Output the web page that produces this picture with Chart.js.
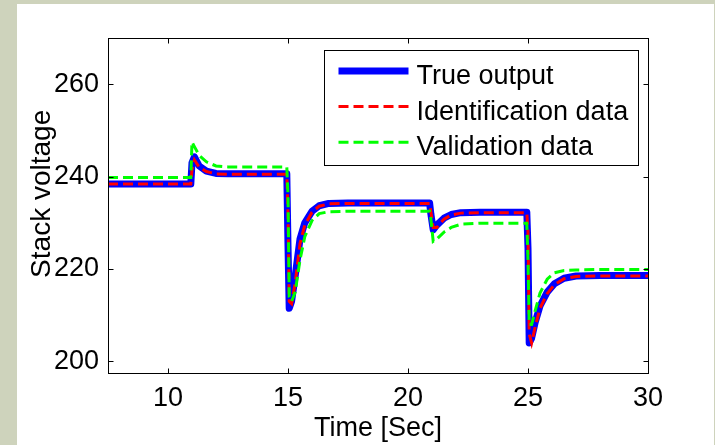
<!DOCTYPE html>
<html>
<head>
<meta charset="utf-8">
<script src="https://cdn.jsdelivr.net/npm/chart.js@4.4.1/dist/chart.umd.min.js"></script>
<style>
  html, body { margin: 0; padding: 0; }
  body { width: 715px; height: 445px; background: #ced3bc; overflow: hidden; position: relative; }
  .js-panel { position: absolute; left: 17px; top: 4px; width: 697px; height: 441px; background: #fff; }
</style>
</head>
<body>
<div class="js-panel"><canvas id="myChart" width="697" height="441"></canvas></div>
<script>
// values (time in seconds, voltage)
const timeSec = [7.5, 10.95, 11.0, 11.1, 11.3, 11.6, 12.0, 12.5, 14.95, 15.0, 15.05, 15.15, 15.3, 15.5, 15.7, 16.0, 16.3, 16.7, 17.5,
  20.9, 20.95, 21.05, 21.2, 21.5, 21.8, 22.2, 23, 24.95, 25.0, 25.05, 25.15, 25.3, 25.5, 25.8, 26.1, 26.5, 27, 28, 30];
const trueOutput = [238.4, 238.4, 243, 244.3, 242.3, 241.2, 240.7, 240.6, 240.6, 225, 211.5, 213, 218.5, 226.5, 230, 232.5, 233.7, 234.2, 234.3,
  234.3, 232, 228.5, 229.5, 231, 231.8, 232.2, 232.3, 232.3, 224.5, 204, 205, 208.5, 212, 215, 216.8, 218, 218.5, 218.6, 218.6];
const identificationData = [238.4, 238.4, 241.5, 243.6, 242, 241.1, 240.6, 240.5, 240.5, 232, 213, 212.5, 217, 225.5, 229.5, 232.3, 233.6, 234.1, 234.2,
  234.2, 232.5, 229, 229, 230.8, 231.7, 232.1, 232.2, 232.2, 228, 206, 204, 207.5, 211.5, 214.7, 216.6, 217.9, 218.4, 218.5, 218.5];
const validationData = [239.8, 239.8, 247.5, 246.5, 244.6, 243.2, 242.3, 242.1, 242.1, 236, 214, 213, 215, 222, 227, 230.5, 232, 232.4, 232.5,
  232.5, 231, 226, 226.5, 228, 229, 229.7, 229.9, 229.9, 222, 208, 208, 211, 214.8, 217.8, 219.2, 219.7, 219.8, 219.9, 219.9];

const xTicks = [10, 15, 20, 25, 30];
const yTicks = [200, 220, 240, 260];

const fontFamily = "'Liberation Sans', Arial, sans-serif";

const toPoints = function (values) {
  return values.map((v, i) => ({ x: timeSec[i], y: v }));
};

// box round the plot + inward tick marks, like matlab
const axesFrame = {
  id: 'axesFrame',
  afterDatasetsDraw(chart) {
    const { ctx, chartArea: a, scales: { x, y } } = chart;
    const l = Math.round(a.left) + 0.5, r = Math.round(a.right) + 0.5;
    const t = Math.round(a.top) + 0.5, b = Math.round(a.bottom) + 0.5;
    ctx.save();
    ctx.strokeStyle = '#000';
    ctx.lineWidth = 1;
    ctx.strokeRect(l, t, r - l, b - t);
    ctx.beginPath();
    x.ticks.forEach(tick => {
      const px = Math.round(x.getPixelForValue(tick.value)) + 0.5;
      ctx.moveTo(px, b); ctx.lineTo(px, b - 5);
      ctx.moveTo(px, t); ctx.lineTo(px, t + 5);
    });
    y.ticks.forEach(tick => {
      const py = Math.round(y.getPixelForValue(tick.value)) + 0.5;
      ctx.moveTo(l, py); ctx.lineTo(l + 5, py);
      ctx.moveTo(r, py); ctx.lineTo(r - 5, py);
    });
    ctx.stroke();
    ctx.restore();
  }
};

// legend box inside the plot, top right
const boxLegend = {
  id: 'boxLegend',
  afterDraw(chart) {
    const { ctx, chartArea: a } = chart;
    const w = 314, h = 115;
    const left = Math.round(a.right - 10 - w) + 0.5, top = Math.round(a.top + 12) + 0.5;
    ctx.save();
    ctx.fillStyle = '#fff';
    ctx.fillRect(left, top, w, h);
    ctx.strokeStyle = '#000';
    ctx.lineWidth = 1;
    ctx.strokeRect(left, top, w, h);
    chart.data.datasets.forEach((ds, i) => {
      const ly = top + 20.5 + i * 35.6;
      ctx.beginPath();
      ctx.strokeStyle = ds.borderColor;
      ctx.lineWidth = ds.borderWidth;
      ctx.setLineDash(ds.borderDash || []);
      ctx.lineCap = 'butt';
      ctx.moveTo(left + 14, ly);
      ctx.lineTo(left + 84, ly);
      ctx.stroke();
      ctx.setLineDash([]);
      ctx.fillStyle = '#000';
      ctx.font = `27px ${fontFamily}`;
      ctx.textBaseline = 'alphabetic';
      ctx.fillText(ds.label, left + 92, ly + 13);
    });
    ctx.restore();
  }
};

const myChart = function () {
  const canvas = document.getElementById('myChart').getContext('2d');
  new Chart(canvas, {
    type: 'scatter',
    data: {
      datasets: [
        {
          label: 'True output',
          data: toPoints(trueOutput),
          showLine: true,
          borderColor: '#0000ff',
          borderWidth: 7,
          borderJoinStyle: 'round',
          borderCapStyle: 'round',
          pointRadius: 0,
          order: 3,
        },
        {
          label: 'Identification data',
          data: toPoints(identificationData),
          showLine: true,
          borderColor: '#ff0000',
          borderWidth: 3,
          borderDash: [10, 5],
          pointRadius: 0,
          order: 2,
        },
        {
          label: 'Validation data',
          data: toPoints(validationData),
          showLine: true,
          borderColor: '#00ff00',
          borderWidth: 3,
          borderDash: [10, 5],
          pointRadius: 0,
          order: 1,
        },
      ],
    },
    options: {
      responsive: false,
      animation: false,
      layout: { padding: { top: 34, right: 66, left: 0, bottom: 0 } },
      plugins: { legend: { display: false }, tooltip: { enabled: false } },
      scales: {
        x: {
          type: 'linear',
          min: 7.5,
          max: 30,
          afterBuildTicks: s => { s.ticks = xTicks.map(v => ({ value: v })); },
          afterFit: s => { s.height = 72; },
          grid: { display: false, drawTicks: false },
          border: { display: false },
          ticks: { color: '#000', font: { family: fontFamily, size: 27 }, padding: 9, maxRotation: 0, autoSkip: false },
          title: { display: true, text: 'Time [Sec]', color: '#000', font: { family: fontFamily, size: 27 }, padding: { top: 0, bottom: 0 } },
        },
        y: {
          min: 197.5,
          max: 270,
          afterBuildTicks: s => { s.ticks = yTicks.map(v => ({ value: v })); },
          afterFit: s => { s.width = 91; },
          grid: { display: false, drawTicks: false },
          border: { display: false },
          ticks: { color: '#000', font: { family: fontFamily, size: 27 }, padding: 9, autoSkip: false },
          // leading spaces lift the label a little, as in the picture
          title: { display: true, text: '   Stack voltage', color: '#000', font: { family: fontFamily, size: 28 }, padding: { top: 8, bottom: 0 } },
        },
      },
    },
    plugins: [axesFrame, boxLegend],
  });
};

document.addEventListener('DOMContentLoaded', function () {
  myChart();
});
</script>
</body>
</html>
